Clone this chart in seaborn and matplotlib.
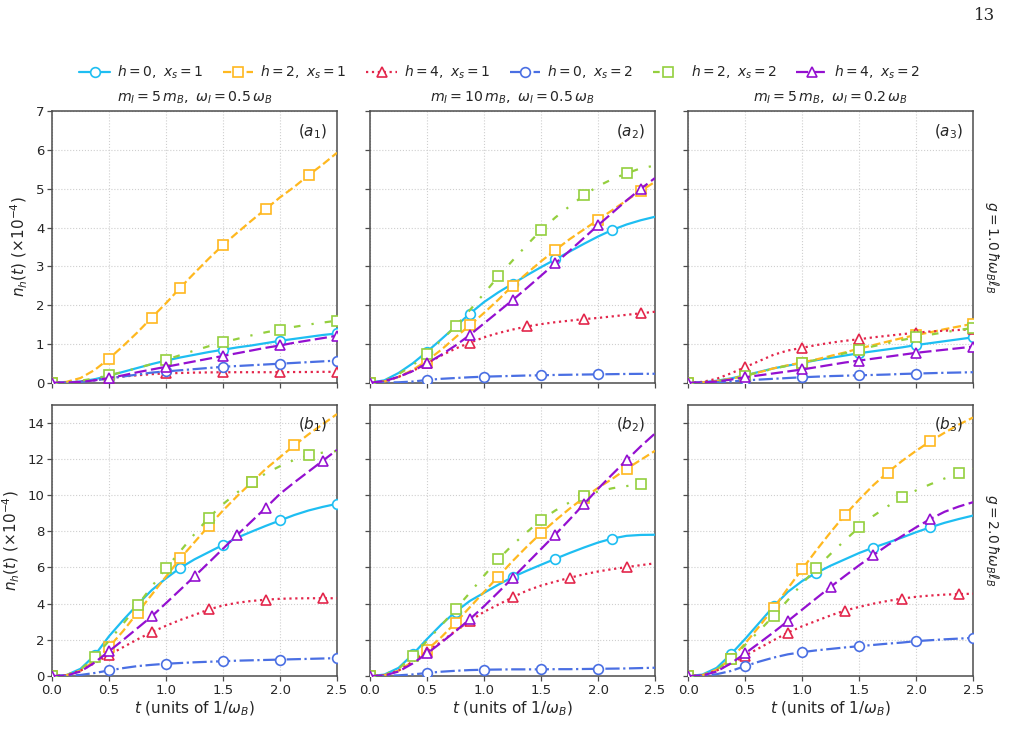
import numpy as np
import pandas as pd
import matplotlib
matplotlib.use("Agg")
import matplotlib.pyplot as plt
import seaborn as sns

# ---------------- data ----------------
T = [0.0, 0.125, 0.25, 0.375, 0.5, 0.625, 0.75, 0.875, 1.0, 1.125, 1.25,
     1.375, 1.5, 1.625, 1.75, 1.875, 2.0, 2.125, 2.25, 2.375, 2.5]

# panel a1 : m_I = 5 m_B, w_I = 0.5 w_B, g = 1.0
a1_h0_x1 = [0, 0.005, 0.03, 0.09, 0.18, 0.28, 0.38, 0.48, 0.57, 0.65, 0.72, 0.79, 0.85, 0.91, 0.96, 1.02, 1.08, 1.13, 1.18, 1.23, 1.27]
a1_h2_x1 = [0, 0.02, 0.12, 0.33, 0.62, 0.95, 1.30, 1.68, 2.05, 2.45, 2.83, 3.20, 3.55, 3.87, 4.18, 4.48, 4.78, 5.05, 5.35, 5.63, 5.93]
a1_h4_x1 = [0, 0.005, 0.03, 0.07, 0.12, 0.16, 0.19, 0.22, 0.24, 0.25, 0.26, 0.265, 0.27, 0.27, 0.27, 0.27, 0.27, 0.275, 0.275, 0.28, 0.28]
a1_h0_x2 = [0, 0.003, 0.02, 0.06, 0.11, 0.16, 0.21, 0.26, 0.29, 0.32, 0.35, 0.38, 0.41, 0.43, 0.45, 0.47, 0.49, 0.51, 0.53, 0.55, 0.57]
a1_h2_x2 = [0, 0.01, 0.05, 0.11, 0.19, 0.28, 0.38, 0.48, 0.59, 0.71, 0.83, 0.94, 1.04, 1.13, 1.22, 1.30, 1.37, 1.44, 1.50, 1.55, 1.60]
a1_h4_x2 = [0, 0.003, 0.02, 0.06, 0.12, 0.19, 0.27, 0.34, 0.41, 0.48, 0.55, 0.62, 0.69, 0.76, 0.83, 0.90, 0.96, 1.03, 1.09, 1.15, 1.21]

# panel a2 : m_I = 10 m_B, w_I = 0.5 w_B, g = 1.0
a2_h0_x1 = [0, 0.06, 0.25, 0.50, 0.80, 1.12, 1.45, 1.78, 2.08, 2.33, 2.55, 2.77, 2.98, 3.18, 3.38, 3.58, 3.77, 3.94, 4.08, 4.19, 4.28]
a2_h2_x1 = [0, 0.03, 0.15, 0.33, 0.57, 0.85, 1.17, 1.48, 1.80, 2.14, 2.50, 2.82, 3.13, 3.42, 3.70, 3.95, 4.20, 4.45, 4.70, 4.95, 5.18]
a2_h4_x1 = [0, 0.03, 0.15, 0.30, 0.50, 0.70, 0.88, 1.03, 1.17, 1.28, 1.37, 1.45, 1.51, 1.56, 1.60, 1.64, 1.67, 1.71, 1.75, 1.79, 1.83]
a2_h0_x2 = [0, 0.002, 0.01, 0.03, 0.07, 0.10, 0.12, 0.14, 0.155, 0.165, 0.175, 0.185, 0.19, 0.20, 0.205, 0.21, 0.215, 0.22, 0.225, 0.228, 0.23]
a2_h2_x2 = [0, 0.05, 0.22, 0.45, 0.75, 1.10, 1.45, 1.87, 2.30, 2.74, 3.15, 3.55, 3.93, 4.26, 4.55, 4.83, 5.07, 5.25, 5.40, 5.53, 5.60]
a2_h4_x2 = [0, 0.04, 0.15, 0.30, 0.50, 0.72, 0.96, 1.23, 1.53, 1.83, 2.13, 2.44, 2.76, 3.08, 3.40, 3.73, 4.06, 4.38, 4.70, 5.00, 5.28]

# panel a3 : m_I = 5 m_B, w_I = 0.2 w_B, g = 1.0
a3_h0_x1 = [0, 0.01, 0.05, 0.11, 0.19, 0.28, 0.37, 0.44, 0.51, 0.58, 0.64, 0.70, 0.76, 0.81, 0.86, 0.91, 0.97, 1.02, 1.07, 1.12, 1.17]
a3_h2_x1 = [0, 0.01, 0.04, 0.10, 0.18, 0.27, 0.37, 0.45, 0.52, 0.60, 0.69, 0.78, 0.88, 0.97, 1.06, 1.15, 1.23, 1.30, 1.38, 1.45, 1.52]
a3_h4_x1 = [0, 0.02, 0.10, 0.24, 0.40, 0.56, 0.72, 0.83, 0.90, 0.97, 1.03, 1.08, 1.12, 1.17, 1.21, 1.25, 1.29, 1.32, 1.34, 1.36, 1.38]
a3_h0_x2 = [0, 0.002, 0.01, 0.03, 0.06, 0.08, 0.10, 0.12, 0.14, 0.155, 0.17, 0.18, 0.19, 0.20, 0.21, 0.225, 0.235, 0.245, 0.255, 0.262, 0.27]
a3_h2_x2 = [0, 0.01, 0.04, 0.10, 0.18, 0.27, 0.36, 0.44, 0.51, 0.59, 0.67, 0.76, 0.85, 0.94, 1.02, 1.10, 1.17, 1.24, 1.30, 1.36, 1.41]
a3_h4_x2 = [0, 0.005, 0.03, 0.08, 0.14, 0.19, 0.24, 0.29, 0.34, 0.40, 0.46, 0.52, 0.57, 0.62, 0.67, 0.72, 0.77, 0.81, 0.85, 0.89, 0.93]

# panel b1 : m_I = 5 m_B, w_I = 0.5 w_B, g = 2.0
b1_h0_x1 = [0, 0.05, 0.40, 1.15, 2.20, 3.10, 3.95, 4.75, 5.40, 5.98, 6.45, 6.85, 7.25, 7.65, 7.98, 8.30, 8.60, 8.90, 9.15, 9.35, 9.52]
b1_h2_x1 = [0, 0.05, 0.30, 0.85, 1.60, 2.50, 3.50, 4.50, 5.50, 6.50, 7.40, 8.30, 9.15, 9.95, 10.70, 11.45, 12.10, 12.75, 13.36, 13.92, 14.48]
b1_h4_x1 = [0, 0.04, 0.30, 0.72, 1.17, 1.60, 2.03, 2.43, 2.78, 3.10, 3.38, 3.68, 3.90, 4.05, 4.15, 4.22, 4.27, 4.29, 4.30, 4.30, 4.30]
b1_h0_x2 = [0, 0.01, 0.06, 0.17, 0.31, 0.44, 0.55, 0.62, 0.68, 0.72, 0.76, 0.79, 0.82, 0.85, 0.87, 0.89, 0.91, 0.93, 0.95, 0.97, 0.99]
b1_h2_x2 = [0, 0.05, 0.35, 1.05, 1.95, 2.90, 3.90, 4.95, 5.95, 6.90, 7.85, 8.75, 9.50, 10.15, 10.70, 11.20, 11.60, 11.95, 12.20, 12.35, 12.44]
b1_h4_x2 = [0, 0.03, 0.25, 0.75, 1.37, 2.00, 2.65, 3.30, 4.03, 4.77, 5.51, 6.27, 7.04, 7.80, 8.55, 9.30, 10.07, 10.70, 11.30, 11.90, 12.50]

# panel b2 : m_I = 10 m_B, w_I = 0.5 w_B, g = 2.0
b2_h0_x1 = [0, 0.08, 0.45, 1.20, 2.05, 2.85, 3.55, 4.15, 4.60, 5.05, 5.47, 5.82, 6.15, 6.48, 6.80, 7.10, 7.38, 7.60, 7.75, 7.80, 7.81]
b2_h2_x1 = [0, 0.05, 0.30, 0.80, 1.45, 2.15, 2.95, 3.80, 4.65, 5.50, 6.35, 7.15, 7.90, 8.60, 9.25, 9.85, 10.40, 10.90, 11.45, 11.95, 12.45]
b2_h4_x1 = [0, 0.04, 0.30, 0.80, 1.35, 1.90, 2.50, 3.05, 3.55, 3.95, 4.35, 4.72, 5.00, 5.22, 5.43, 5.62, 5.78, 5.91, 6.02, 6.13, 6.23]
b2_h0_x2 = [0, 0.01, 0.04, 0.09, 0.17, 0.24, 0.29, 0.33, 0.35, 0.36, 0.37, 0.37, 0.37, 0.38, 0.38, 0.39, 0.40, 0.41, 0.42, 0.44, 0.46]
b2_h2_x2 = [0, 0.08, 0.40, 1.10, 1.95, 2.80, 3.70, 4.60, 5.55, 6.45, 7.25, 7.95, 8.63, 9.15, 9.60, 9.95, 10.20, 10.38, 10.50, 10.60, 10.66]
b2_h4_x2 = [0, 0.03, 0.25, 0.70, 1.25, 1.85, 2.48, 3.14, 3.86, 4.63, 5.42, 6.22, 7.02, 7.82, 8.65, 9.50, 10.35, 11.15, 11.93, 12.70, 13.41]

# panel b3 : m_I = 5 m_B, w_I = 0.2 w_B, g = 2.0
b3_h0_x1 = [0, 0.08, 0.45, 1.20, 2.05, 2.95, 3.85, 4.65, 5.25, 5.70, 6.10, 6.45, 6.80, 7.10, 7.37, 7.65, 7.95, 8.22, 8.47, 8.68, 8.87]
b3_h2_x1 = [0, 0.05, 0.35, 0.95, 1.80, 2.75, 3.75, 4.85, 5.90, 6.95, 7.95, 8.90, 9.75, 10.55, 11.25, 11.88, 12.45, 12.98, 13.45, 13.90, 14.29]
b3_h4_x1 = [0, 0.04, 0.30, 0.70, 1.12, 1.55, 1.98, 2.40, 2.75, 3.05, 3.35, 3.62, 3.82, 4.00, 4.15, 4.28, 4.38, 4.45, 4.50, 4.53, 4.55]
b3_h0_x2 = [0, 0.02, 0.10, 0.28, 0.55, 0.80, 1.02, 1.20, 1.32, 1.42, 1.50, 1.58, 1.65, 1.72, 1.79, 1.85, 1.93, 1.98, 2.03, 2.07, 2.11]
b3_h2_x2 = [0, 0.05, 0.35, 0.95, 1.72, 2.50, 3.33, 4.20, 5.10, 5.97, 6.75, 7.50, 8.22, 8.85, 9.38, 9.87, 10.26, 10.60, 10.92, 11.20, 11.45]
b3_h4_x2 = [0, 0.03, 0.25, 0.70, 1.25, 1.83, 2.42, 3.04, 3.67, 4.30, 4.93, 5.53, 6.12, 6.68, 7.23, 7.73, 8.22, 8.68, 9.08, 9.37, 9.61]

SERIES_KEYS = ["h0_x1", "h2_x1", "h4_x1", "h0_x2", "h2_x2", "h4_x2"]
SERIES_LABELS = [r"$h=0,\ x_s=1$", r"$h=2,\ x_s=1$", r"$h=4,\ x_s=1$",
                 r"$h=0,\ x_s=2$", r"$h=2,\ x_s=2$", r"$h=4,\ x_s=2$"]
COLUMN_TITLES = [r"$m_I=5\,m_B,\ \omega_I=0.5\,\omega_B$",
                 r"$m_I=10\,m_B,\ \omega_I=0.5\,\omega_B$",
                 r"$m_I=5\,m_B,\ \omega_I=0.2\,\omega_B$"]
ROW_LABELS = [r"$g=1.0\,\hbar\omega_B\ell_B$", r"$g=2.0\,\hbar\omega_B\ell_B$"]
PANEL_LABELS = [[r"$(a_1)$", r"$(a_2)$", r"$(a_3)$"], [r"$(b_1)$", r"$(b_2)$", r"$(b_3)$"]]
X_TICKS = [0.0, 0.5, 1.0, 1.5, 2.0, 2.5]
Y_TICKS_ROW = [[0, 1, 2, 3, 4, 5, 6, 7], [0, 2, 4, 6, 8, 10, 12, 14]]
Y_LIMS = [(0, 7), (0, 15)]

PANELS = [
    [dict(h0_x1=a1_h0_x1, h2_x1=a1_h2_x1, h4_x1=a1_h4_x1, h0_x2=a1_h0_x2, h2_x2=a1_h2_x2, h4_x2=a1_h4_x2),
     dict(h0_x1=a2_h0_x1, h2_x1=a2_h2_x1, h4_x1=a2_h4_x1, h0_x2=a2_h0_x2, h2_x2=a2_h2_x2, h4_x2=a2_h4_x2),
     dict(h0_x1=a3_h0_x1, h2_x1=a3_h2_x1, h4_x1=a3_h4_x1, h0_x2=a3_h0_x2, h2_x2=a3_h2_x2, h4_x2=a3_h4_x2)],
    [dict(h0_x1=b1_h0_x1, h2_x1=b1_h2_x1, h4_x1=b1_h4_x1, h0_x2=b1_h0_x2, h2_x2=b1_h2_x2, h4_x2=b1_h4_x2),
     dict(h0_x1=b2_h0_x1, h2_x1=b2_h2_x1, h4_x1=b2_h4_x1, h0_x2=b2_h0_x2, h2_x2=b2_h2_x2, h4_x2=b2_h4_x2),
     dict(h0_x1=b3_h0_x1, h2_x1=b3_h2_x1, h4_x1=b3_h4_x1, h0_x2=b3_h0_x2, h2_x2=b3_h2_x2, h4_x2=b3_h4_x2)],
]

# ---------------- style ----------------
COLORS = ["#1EBEF2", "#FFB81F", "#E3264B", "#4A6FE3", "#94CF3E", "#9410D0"]
LINESTYLES = ["-", (0, (3.7, 1.6)), (0, (1, 1.65)), (0, (6.4, 1.6, 1, 1.6)),
              (0, (3, 5, 1, 5)), (0, (5.5, 2))]
MARKERS = ["o", "s", "^", "o", "s", "^"]

sns.set_theme(style="ticks")
plt.rcParams["font.family"] = ["DejaVu Sans"]
plt.rcParams["mathtext.fontset"] = "dejavusans"

fig, axes = plt.subplots(2, 3, figsize=(10.2, 7.52), dpi=100)
fig.subplots_adjust(left=0.051, right=0.954, top=0.852, bottom=0.101,
                    wspace=0.116, hspace=0.081)

for r in range(2):
    for c in range(3):
        ax = axes[r, c]
        panel = PANELS[r][c]
        for k, key in enumerate(SERIES_KEYS):
            df = pd.DataFrame({"t": T, "n": panel[key]})
            sns.lineplot(data=df, x="t", y="n", ax=ax, color=COLORS[k],
                         linestyle=LINESTYLES[k], linewidth=1.6,
                         marker=MARKERS[k], markersize=7,
                         markerfacecolor="white", markeredgecolor=COLORS[k],
                         markeredgewidth=1.2, markevery=0.145,
                         label=SERIES_LABELS[k], legend=False, zorder=3 + k)
        ax.set_xlim(0, 2.5)
        ax.set_ylim(*Y_LIMS[r])
        ax.set_xticks(X_TICKS)
        ax.set_yticks(Y_TICKS_ROW[r])
        ax.grid(True, linestyle=":", color="#cfcfcf", linewidth=0.8)
        for s in ax.spines.values():
            s.set_color("#4d4d4d")
            s.set_linewidth(1.1)
        ax.tick_params(direction="out", length=3.5, width=0.9, color="#4d4d4d",
                       labelsize=9.5, pad=2)
        if r == 0:
            ax.set_xticklabels([])
            ax.set_xlabel("")
            ax.set_title(COLUMN_TITLES[c], fontsize=10.2, pad=7)
        else:
            ax.set_xticklabels([f"{v:.1f}" for v in X_TICKS])
            ax.set_xlabel(r"$t$ (units of $1/\omega_B$)", fontsize=11, labelpad=2)
        if c == 0:
            ax.set_ylabel(r"$n_h(t)\ (\times10^{-4})$", fontsize=11, labelpad=4)
        else:
            ax.set_yticklabels([])
            ax.set_ylabel("")
        ax.text(0.915, 0.925, PANEL_LABELS[r][c], transform=ax.transAxes,
                ha="center", va="center", fontsize=11, zorder=20)
    axes[r, 2].text(1.065, 0.5, ROW_LABELS[r], transform=axes[r, 2].transAxes,
                    rotation=270, ha="center", va="center", fontsize=10)

handles = axes[0, 0].get_lines()[:6]
fig.legend(handles, SERIES_LABELS, loc="center", bbox_to_anchor=(0.49, 0.904),
           ncol=6, frameon=False, fontsize=10, handlelength=2.2,
           columnspacing=1.4, handletextpad=0.5)

fig.text(0.965, 0.98, "13", ha="center", va="center", fontsize=12,
         family="DejaVu Serif")

fig.savefig("out.png", dpi=100)
